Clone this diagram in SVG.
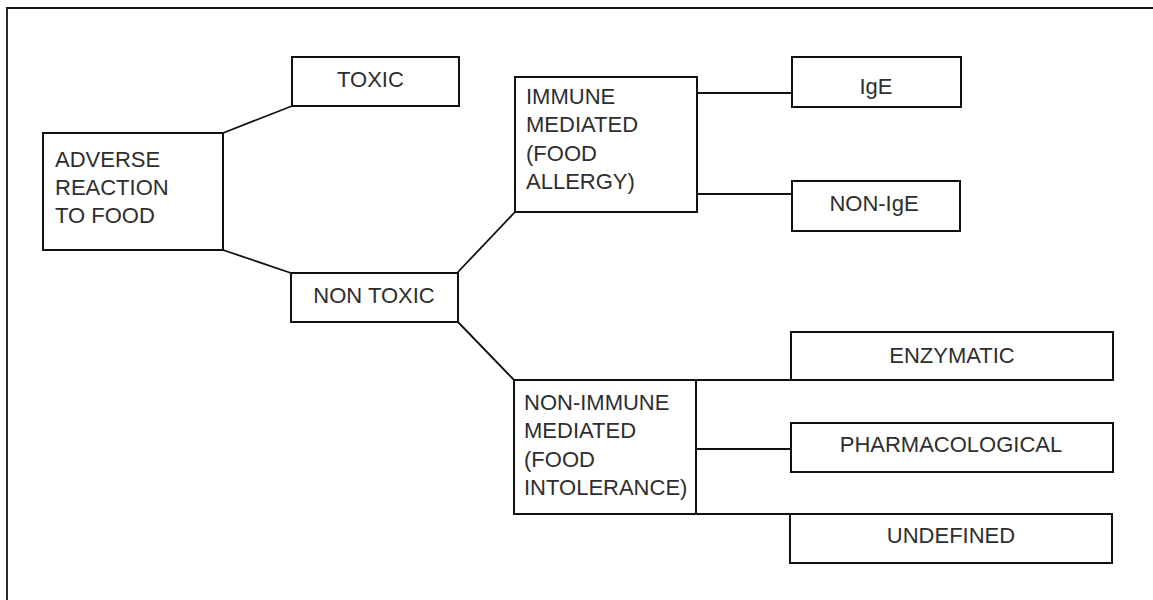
<svg xmlns="http://www.w3.org/2000/svg" width="1153" height="600" viewBox="0 0 1153 600">
<style>
.box{fill:#fff;stroke:#111;stroke-width:2}
.ln{fill:none;stroke:#111;stroke-width:1.8}
text{font-family:"Liberation Sans",Arial,sans-serif;font-size:22px;fill:#2e2e2e}
.c{text-anchor:middle}
</style>
<rect width="1153" height="600" fill="#fff"/>
<path id="frame" class="ln" d="M7,600 V8 H1153" stroke-width="2.2"/>
<g id="connectors">
<line class="ln" x1="223" y1="133" x2="292" y2="106"/>
<line class="ln" x1="223" y1="250" x2="291" y2="273"/>
<line class="ln" x1="458" y1="272" x2="515" y2="212"/>
<line class="ln" x1="458" y1="322" x2="514" y2="380"/>
<line class="ln" x1="697" y1="93" x2="792" y2="93"/>
<line class="ln" x1="697" y1="194" x2="792" y2="194"/>
<line class="ln" x1="696" y1="380" x2="791" y2="380"/>
<line class="ln" x1="696" y1="449" x2="791" y2="449"/>
<line class="ln" x1="696" y1="514" x2="790" y2="514"/>
</g>
<g id="adverse">
<rect class="box" x="43" y="133" width="180" height="117"/>
<text x="55" y="167">ADVERSE</text>
<text x="55" y="195">REACTION</text>
<text x="55" y="223">TO FOOD</text>
</g>
<g id="toxic">
<rect class="box" x="292" y="57" width="167" height="49"/>
<text x="337" y="87">TOXIC</text>
</g>
<g id="nontoxic">
<rect class="box" x="291" y="273" width="167" height="49"/>
<text class="c" x="374" y="303">NON TOXIC</text>
</g>
<g id="immune">
<rect class="box" x="515" y="77" width="182" height="135"/>
<text x="526" y="104">IMMUNE</text>
<text x="526" y="132">MEDIATED</text>
<text x="526" y="161">(FOOD</text>
<text x="526" y="189">ALLERGY)</text>
</g>
<g id="nonimmune">
<rect class="box" x="514" y="380" width="182" height="134"/>
<text x="524" y="410">NON-IMMUNE</text>
<text x="524" y="438">MEDIATED</text>
<text x="524" y="467">(FOOD</text>
<text x="524" y="495">INTOLERANCE)</text>
</g>
<g id="ige">
<rect class="box" x="792" y="57" width="169" height="50"/>
<text class="c" x="876" y="94">IgE</text>
</g>
<g id="nonige">
<rect class="box" x="792" y="181" width="168" height="50"/>
<text class="c" x="874" y="211">NON-IgE</text>
</g>
<g id="enzymatic">
<rect class="box" x="791" y="332" width="322" height="48"/>
<text class="c" x="952" y="363">ENZYMATIC</text>
</g>
<g id="pharmacological">
<rect class="box" x="791" y="423" width="322" height="49"/>
<text class="c" x="951" y="452">PHARMACOLOGICAL</text>
</g>
<g id="undefined">
<rect class="box" x="790" y="514" width="322" height="49"/>
<text class="c" x="951" y="543">UNDEFINED</text>
</g>
</svg>
